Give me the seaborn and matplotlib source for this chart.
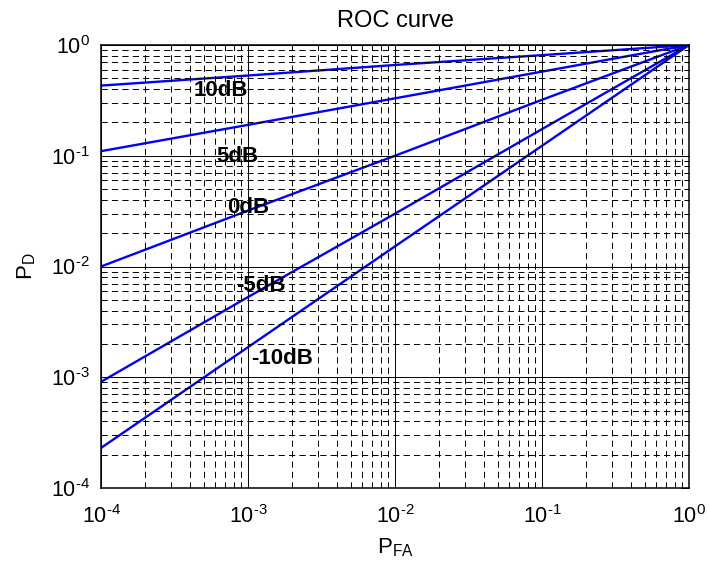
import matplotlib
matplotlib.use("Agg")
import matplotlib.pyplot as plt
from matplotlib.ticker import LogLocator, NullFormatter, FuncFormatter
import numpy as np
import pandas as pd
import seaborn as sns

# False-alarm probabilities at which detection probability is tabulated
pfa = [1e-4, 1e-3, 1e-2, 1e-1, 1.0]

# Detection probability for each SNR
pd_10dB = [0.43, 0.53, 0.66, 0.81, 1.0]
pd_5dB = [0.11, 0.19, 0.33, 0.575, 1.0]
pd_0dB = [0.010, 0.032, 0.10, 0.32, 1.0]
pd_m5dB = [9.1e-4, 5.3e-3, 0.030, 0.174, 1.0]
pd_m10dB = [2.3e-4, 1.87e-3, 0.0152, 0.123, 1.0]

snr_labels = ["10dB", "5dB", "0dB", "-5dB", "-10dB"]
series = [pd_10dB, pd_5dB, pd_0dB, pd_m5dB, pd_m10dB]

df = pd.concat(
    [pd.DataFrame({"PFA": pfa, "PD": s, "SNR": lab}) for lab, s in zip(snr_labels, series)],
    ignore_index=True,
)

sns.set_style("white")
plt.rcParams["font.family"] = ["Liberation Sans", "DejaVu Sans"]
plt.rcParams["mathtext.fontset"] = "custom"
plt.rcParams["mathtext.rm"] = "Liberation Sans"
plt.rcParams["mathtext.it"] = "Liberation Sans:italic"
plt.rcParams["mathtext.bf"] = "Liberation Sans:bold"
plt.rcParams["lines.scale_dashes"] = False
for key in ("text.color", "axes.labelcolor", "xtick.color", "ytick.color"):
    plt.rcParams[key] = "black"

fig = plt.figure(figsize=(7.09, 5.66), dpi=100)
ax = fig.add_axes([0.1425, 0.1378, 0.9718 - 0.1425, 0.9205 - 0.1378])

sns.lineplot(
    data=df, x="PFA", y="PD", hue="SNR", estimator=None, sort=True,
    palette=["#0000ff"] * len(snr_labels), linewidth=1.7, legend=False, ax=ax,
)

ax.set_xscale("log")
ax.set_yscale("log")
ax.set_xlim(1e-4, 1)
ax.set_ylim(1e-4, 1)


def decade_label(v, _pos):
    e = int(round(np.log10(v)))
    exp = r"\text{-}%d" % abs(e) if e < 0 else "%d" % e
    return r"$\mathregular{10^{%s}}$" % exp


for axis in (ax.xaxis, ax.yaxis):
    axis.set_major_locator(LogLocator(base=10, numticks=10))
    axis.set_minor_locator(LogLocator(base=10, subs=np.arange(2, 10), numticks=20))
    axis.set_minor_formatter(NullFormatter())
    axis.set_major_formatter(FuncFormatter(decade_label))

ax.grid(which="major", linestyle="-", color="black", linewidth=0.7)
ax.grid(which="minor", linestyle=(0, (4.5, 3.0)), color="black", linewidth=0.7)
ax.set_axisbelow(False)

ax.tick_params(which="both", direction="in", top=True, right=True, color="black")
ax.tick_params(which="major", length=6, width=0.7, labelsize=15.5)
ax.tick_params(axis="x", which="major", pad=12)
ax.tick_params(axis="y", which="major", pad=8)
ax.tick_params(which="minor", length=3.5, width=0.7)

for sp in ax.spines.values():
    sp.set_visible(True)
    sp.set_color("black")
    sp.set_linewidth(1.1)

ax.set_title("ROC curve", fontsize=17, pad=13)
ax.set_xlabel(r"$\mathregular{P_{FA}}$", fontsize=16, labelpad=6)
ax.set_ylabel(r"$\mathregular{P_{D}}$", fontsize=16, labelpad=9)

# Curve annotations
label_pos = {
    "10dB": (6.5e-4, 0.39),
    "5dB": (8.5e-4, 0.0975),
    "0dB": (1.0e-3, 0.0344),
    "-5dB": (1.22e-3, 6.8e-3),
    "-10dB": (1.7e-3, 1.49e-3),
}
for lab, (x, y) in label_pos.items():
    ax.text(x, y, lab, fontsize=16, fontweight="bold", ha="center", va="center")

fig.savefig("out.png", dpi=100)
